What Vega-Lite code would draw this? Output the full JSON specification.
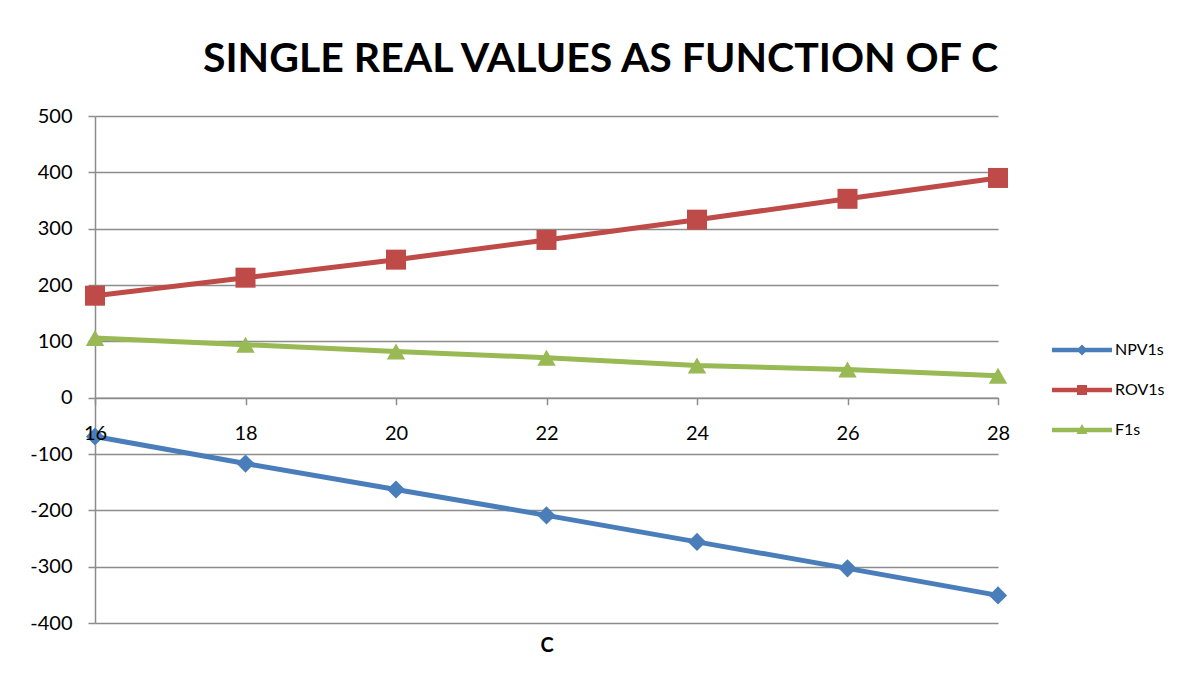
{
  "$schema": "https://vega.github.io/schema/vega-lite/v6.json",
  "autosize": "none",
  "width": 903,
  "height": 507,
  "padding": {"left": 95, "top": 116, "right": 187, "bottom": 65},
  "background": "white",
  "config": {"view": {"stroke": null}, "font": "Lato"},
  "title": {"text": "SINGLE REAL VALUES AS FUNCTION OF C", "fontSize": 41, "fontWeight": "bold", "font": "Lato", "color": "#000000", "anchor": "middle", "dx": 54, "offset": 25},
  "data": {"values": [
    {"C": 16, "series": "NPV1s", "v": -69},
    {"C": 18, "series": "NPV1s", "v": -117},
    {"C": 20, "series": "NPV1s", "v": -163},
    {"C": 22, "series": "NPV1s", "v": -209},
    {"C": 24, "series": "NPV1s", "v": -256},
    {"C": 26, "series": "NPV1s", "v": -303},
    {"C": 28, "series": "NPV1s", "v": -351},
    {"C": 16, "series": "ROV1s", "v": 181},
    {"C": 18, "series": "ROV1s", "v": 213},
    {"C": 20, "series": "ROV1s", "v": 245},
    {"C": 22, "series": "ROV1s", "v": 280},
    {"C": 24, "series": "ROV1s", "v": 316},
    {"C": 26, "series": "ROV1s", "v": 353},
    {"C": 28, "series": "ROV1s", "v": 390},
    {"C": 16, "series": "F1s", "v": 106},
    {"C": 18, "series": "F1s", "v": 94},
    {"C": 20, "series": "F1s", "v": 82},
    {"C": 22, "series": "F1s", "v": 71},
    {"C": 24, "series": "F1s", "v": 57},
    {"C": 26, "series": "F1s", "v": 50},
    {"C": 28, "series": "F1s", "v": 39}
  ]},
  "encoding": {
    "y": {"field": "v", "type": "quantitative",
      "scale": {"domain": [-400, 500], "nice": false, "zero": false},
      "axis": {"title": null, "values": [-400, -300, -200, -100, 0, 100, 200, 300, 400, 500], "labelExpr": "'' + datum.value", "grid": true, "gridColor": "#8c8c8c", "gridWidth": 1.5, "domainColor": "#8c8c8c", "domainWidth": 1.5, "tickColor": "#8c8c8c", "tickWidth": 1.5, "tickSize": 7, "labelPadding": 16, "labelFontSize": 20, "labelColor": "#000000", "labelFont": "Lato"}}
  },
  "layer": [
    {
      "mark": {"type": "line", "strokeWidth": 5, "strokeCap": "round"},
      "encoding": {
        "x": {"field": "C", "type": "quantitative",
          "scale": {"domain": [16, 28], "nice": false, "zero": false},
          "axis": {"title": null, "orient": "bottom", "zindex": 1, "values": [16, 18, 20, 22, 24, 26, 28], "grid": false, "offset": -225.33, "domainColor": "#8c8c8c", "domainWidth": 1.5, "tickColor": "#8c8c8c", "tickWidth": 1.5, "tickSize": 7, "labelPadding": 19, "labelFontSize": 20, "labelColor": "#000000", "labelFont": "Lato", "labelFlush": false}},
        "color": {"field": "series", "type": "nominal",
          "scale": {"domain": ["NPV1s", "ROV1s", "F1s"], "range": ["#4a7ebb", "#be4b48", "#98b954"]},
          "legend": {"title": null, "orient": "none", "legendX": 977, "legendY": 224, "symbolSize": 400, "labelOffset": 23, "labelFontSize": 16, "labelFont": "Lato", "labelColor": "#000000", "rowPadding": 22,
            "symbolType": "M-3,-0.2H3V0.2H-3Z",
            "encode": {"symbols": {"update": {
              "shape": {"signal": "datum.value === 'NPV1s' ? 'M-3,-0.22H3V0.22H-3Z M0,-0.55L0.55,0L0,0.55L-0.55,0Z' : datum.value === 'ROV1s' ? 'M-3,-0.22H3V0.22H-3Z M-0.5,-0.5H0.5V0.5H-0.5Z' : 'M-3,-0.22H3V0.22H-3Z M0,-0.6L0.55,0.4L-0.55,0.4Z'"},
              "fill": {"scale": "color", "field": "value"},
              "strokeWidth": {"value": 0},
              "opacity": {"value": 1}
            }}}}}
      }
    },
    {
      "transform": [{"filter": "datum.series === 'NPV1s'"}],
      "mark": {"type": "point", "filled": true, "opacity": 1, "shape": "diamond", "size": 330, "color": "#4a7ebb"},
      "encoding": {"x": {"field": "C", "type": "quantitative", "axis": null}}
    },
    {
      "transform": [{"filter": "datum.series === 'ROV1s'"}],
      "mark": {"type": "point", "filled": true, "opacity": 1, "shape": "square", "size": 400, "color": "#be4b48"},
      "encoding": {"x": {"field": "C", "type": "quantitative", "axis": null}}
    },
    {
      "transform": [{"filter": "datum.series === 'F1s'"}],
      "mark": {"type": "point", "filled": true, "opacity": 1, "shape": "triangle-up", "size": 340, "color": "#98b954"},
      "encoding": {"x": {"field": "C", "type": "quantitative", "axis": null}}
    },
    {
      "mark": {"type": "point", "opacity": 0},
      "encoding": {
        "x": {"field": "C", "type": "quantitative",
          "axis": {"title": "C", "orient": "bottom", "labels": false, "ticks": false, "domain": false, "grid": false, "titleFontSize": 20, "titleFontWeight": "bold", "titleFont": "Lato", "titleColor": "#000000", "titlePadding": 12}}
      }
    }
  ],
  "resolve": {"axis": {"x": "independent"}}
}
